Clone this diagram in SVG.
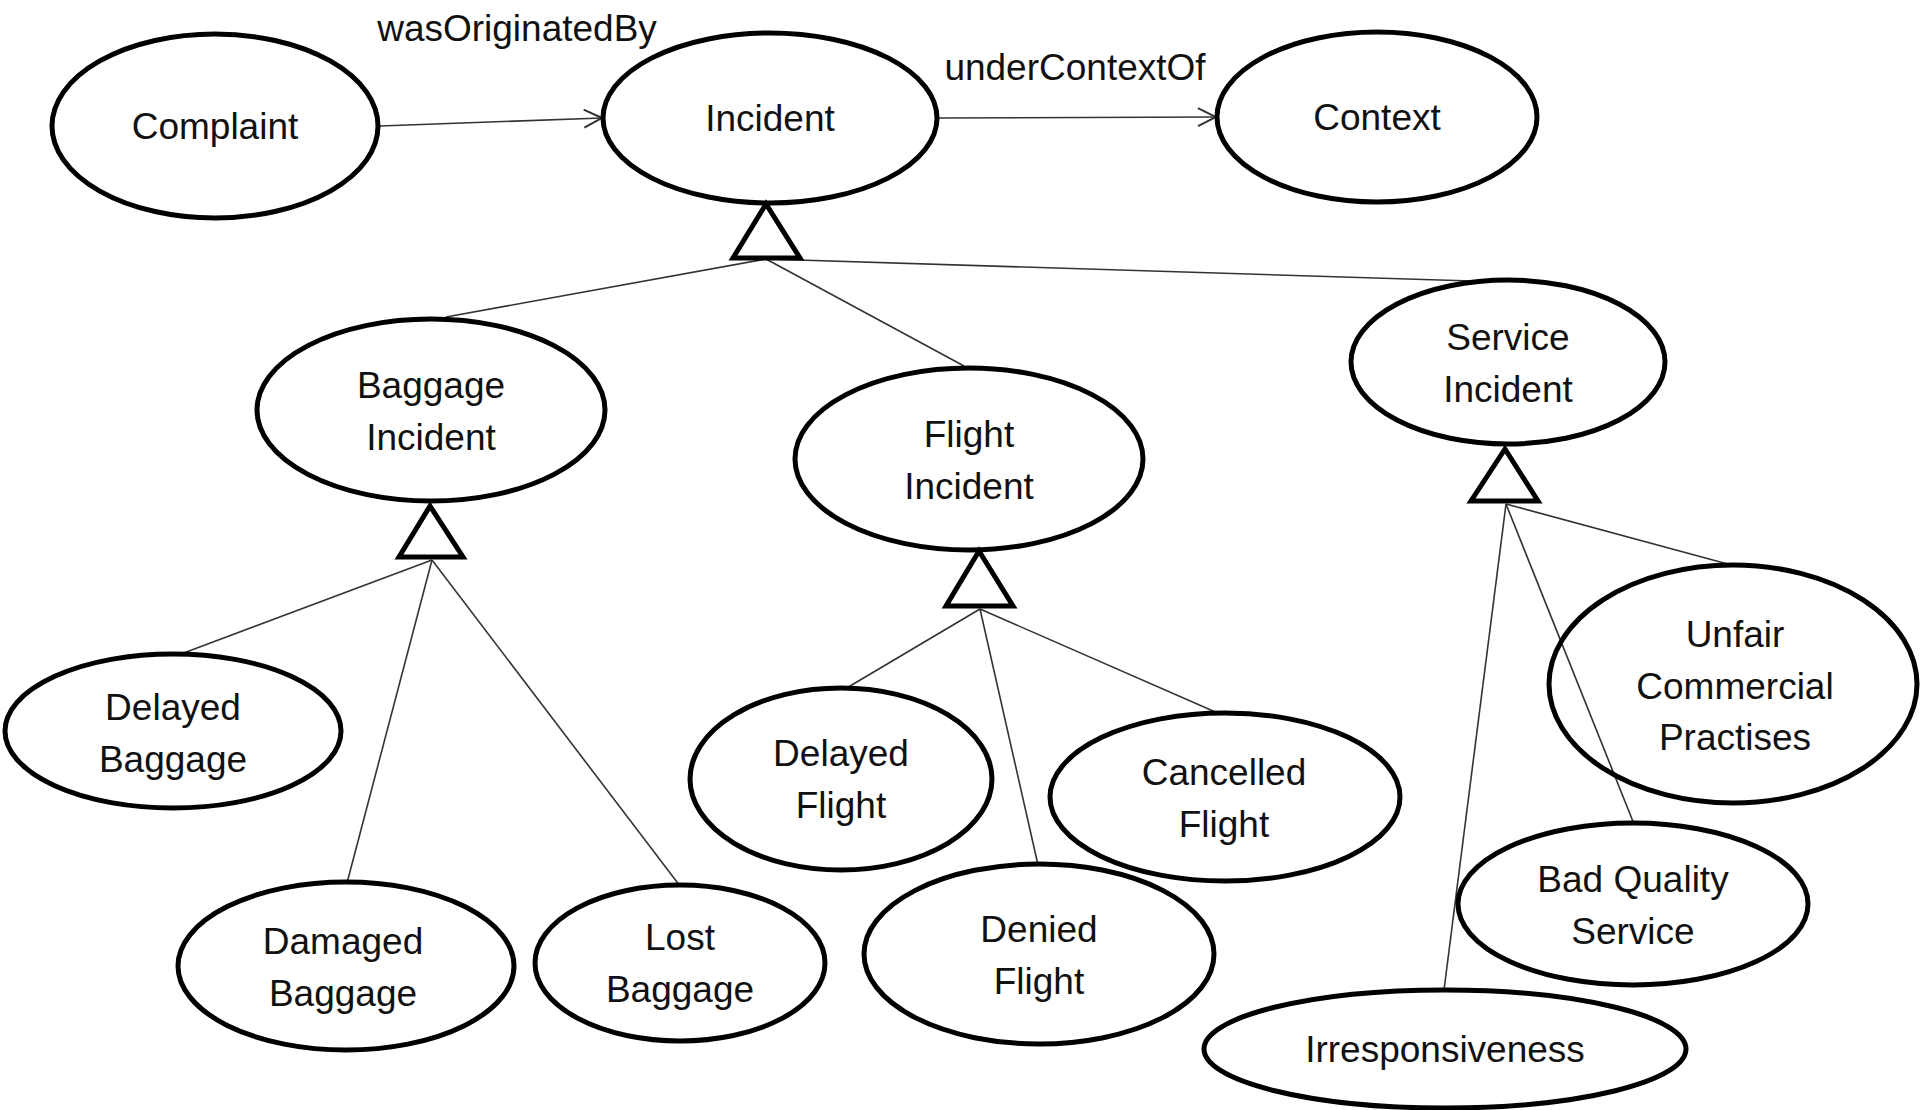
<svg xmlns="http://www.w3.org/2000/svg" width="1920" height="1110" viewBox="0 0 1920 1110">
<defs>
<style>
.node ellipse{fill:#fff;stroke:#000;stroke-width:5}
.node ellipse.see{fill:none}
.gen{fill:#fff;stroke:#000;stroke-width:5;stroke-linejoin:miter}
.t{font-family:"Liberation Sans",Arial,sans-serif;font-size:37px;fill:#111;text-anchor:middle}
.c line{stroke:#333;stroke-width:1.6}
.arr{stroke:#333;stroke-width:1.8;fill:none}
</style>
<marker id="open" viewBox="0 0 20 20" refX="19" refY="10" markerWidth="20" markerHeight="20" markerUnits="userSpaceOnUse" orient="auto">
<path d="M1,1 L19,10 L1,19" fill="none" stroke="#333" stroke-width="2"/>
</marker>
</defs>
<rect width="1920" height="1110" fill="#fff"/>

<g id="connectors" class="c">
<line class="arr" x1="380" y1="126" x2="602" y2="118" marker-end="url(#open)"/>
<line class="arr" x1="937" y1="118" x2="1216" y2="117" marker-end="url(#open)"/>
<line x1="766" y1="259" x2="446" y2="317"/>
<line x1="766" y1="259" x2="964" y2="366"/>
<line x1="766" y1="259" x2="1472" y2="281"/>
<line x1="432" y1="560" x2="181" y2="654"/>
<line x1="432" y1="560" x2="347" y2="883"/>
<line x1="432" y1="560" x2="680" y2="886"/>
<line x1="980" y1="609" x2="845" y2="689"/>
<line x1="980" y1="609" x2="1038" y2="865"/>
<line x1="980" y1="609" x2="1220" y2="714"/>
<line x1="1506" y1="504" x2="1735" y2="566"/>
<line x1="1506" y1="504" x2="1634" y2="824"/>
<line x1="1506" y1="504" x2="1444" y2="990"/>
</g>

<g id="labels">
<text class="t" x="517" y="41">wasOriginatedBy</text>
<text class="t" x="1075" y="80">underContextOf</text>
</g>

<g id="complaint" class="node"><ellipse cx="215" cy="126" rx="163" ry="92"/><text class="t" x="215" y="139">Complaint</text></g>
<g id="incident" class="node"><ellipse cx="770" cy="118" rx="167" ry="85"/><text class="t" x="770" y="131">Incident</text></g>
<g id="context" class="node"><ellipse cx="1377" cy="117" rx="160" ry="85"/><text class="t" x="1377" y="130">Context</text></g>

<polygon id="gen-incident" class="gen" points="766,204 733,258 800,258"/>

<g id="baggage-incident" class="node"><ellipse cx="431" cy="410" rx="174" ry="91"/><text class="t" x="431" y="398">Baggage</text><text class="t" x="431" y="450">Incident</text></g>
<polygon id="gen-baggage" class="gen" points="430,506 399,557 463,557"/>

<g id="flight-incident" class="node"><ellipse cx="969" cy="459" rx="174" ry="91"/><text class="t" x="969" y="447">Flight</text><text class="t" x="969" y="499">Incident</text></g>
<polygon id="gen-flight" class="gen" points="979,551 946,606 1013,606"/>

<g id="service-incident" class="node"><ellipse cx="1508" cy="362" rx="157" ry="82"/><text class="t" x="1508" y="350">Service</text><text class="t" x="1508" y="402">Incident</text></g>
<polygon id="gen-service" class="gen" points="1505,449 1471,501 1538,501"/>

<g id="delayed-baggage" class="node"><ellipse cx="173" cy="731" rx="168" ry="77"/><text class="t" x="173" y="720">Delayed</text><text class="t" x="173" y="772">Baggage</text></g>
<g id="damaged-baggage" class="node"><ellipse cx="346" cy="966" rx="168" ry="84"/><text class="t" x="343" y="954">Damaged</text><text class="t" x="343" y="1006">Baggage</text></g>
<g id="lost-baggage" class="node"><ellipse cx="680" cy="963" rx="145" ry="78"/><text class="t" x="680" y="950">Lost</text><text class="t" x="680" y="1002">Baggage</text></g>

<g id="delayed-flight" class="node"><ellipse cx="841" cy="779" rx="151" ry="91"/><text class="t" x="841" y="766">Delayed</text><text class="t" x="841" y="818">Flight</text></g>
<g id="cancelled-flight" class="node"><ellipse cx="1225" cy="797" rx="175" ry="84"/><text class="t" x="1224" y="785">Cancelled</text><text class="t" x="1224" y="837">Flight</text></g>
<g id="denied-flight" class="node"><ellipse cx="1039" cy="954" rx="175" ry="90"/><text class="t" x="1039" y="942">Denied</text><text class="t" x="1039" y="994">Flight</text></g>

<g id="unfair-commercial-practises" class="node"><ellipse class="see" cx="1733" cy="684" rx="184" ry="119"/><text class="t" x="1735" y="647">Unfair</text><text class="t" x="1735" y="699">Commercial</text><text class="t" x="1735" y="750">Practises</text></g>
<g id="bad-quality-service" class="node"><ellipse cx="1633" cy="904" rx="175" ry="81"/><text class="t" x="1633" y="892">Bad Quality</text><text class="t" x="1633" y="944">Service</text></g>
<g id="irresponsiveness" class="node"><ellipse cx="1445" cy="1049" rx="241" ry="59"/><text class="t" x="1445" y="1062">Irresponsiveness</text></g>
</svg>
